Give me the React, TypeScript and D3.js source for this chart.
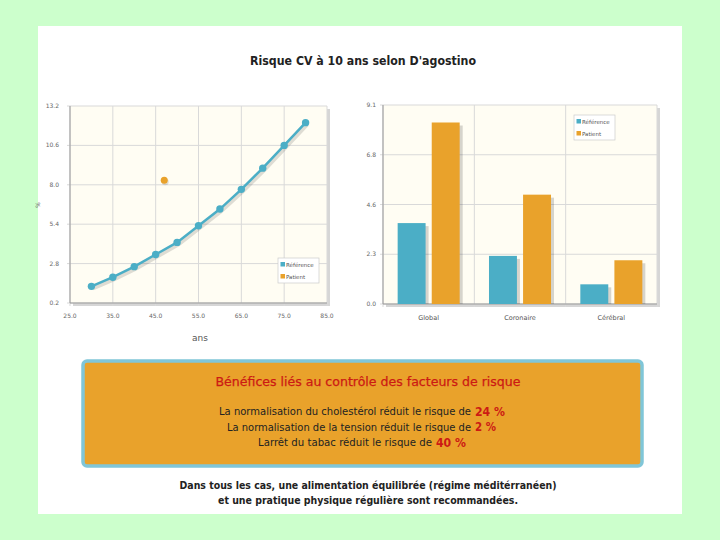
import { useEffect, useRef } from 'react';
import * as d3 from 'd3';

// courbe de référence (risque selon l'âge)
const ages = [30, 35, 40, 45, 50, 55, 60, 65, 70, 75, 80];
const risqueReference = [1.3, 1.9, 2.6, 3.4, 4.2, 5.3, 6.4, 7.7, 9.1, 10.6, 12.1];
const patientAge = 47;
const patientRisque = 8.3;

const xTicksAge = [25, 35, 45, 55, 65, 75, 85];
const yTicksAge = [0.2, 2.8, 5.4, 8.0, 10.6, 13.2];

// barres
const categories = ['Global', 'Coronaire', 'Cérébral'];
const series = ['Référence', 'Patient'];
const barReference = [3.7, 2.2, 0.9];
const barPatient = [8.3, 5.0, 2.0];
const yTicksBar = [0, 2.275, 4.55, 6.825, 9.1];
const yTickLabelsBar = ['0.0', '2.3', '4.6', '6.8', '9.1'];

const benefices = [
  { text: 'La normalisation du cholestérol réduit le risque de', value: '24 %' },
  { text: 'La normalisation de la tension réduit le risque de', value: '2 %' },
  { text: 'Larrêt du tabac réduit le risque de', value: '40 %' },
];

const TEAL = '#4baec6';
const ORANGE = '#e9a22b';
const FONT = '"DejaVu Sans", Verdana, sans-serif';

export default function App() {
  const ref = useRef<SVGSVGElement | null>(null);

  useEffect(() => {
    document.body.style.margin = '0';
    const svg = d3.select(ref.current);
    svg.selectAll('*').remove();

    svg.append('rect').attr('width', 720).attr('height', 540).attr('fill', '#ccffcc');
    svg.append('rect').attr('x', 38).attr('y', 26).attr('width', 644).attr('height', 488).attr('fill', '#ffffff');

    svg.append('text')
      .attr('x', 363).attr('y', 65)
      .attr('text-anchor', 'middle')
      .attr('font-family', FONT).attr('font-size', 12.5).attr('font-weight', 'bold')
      .attr('fill', '#222')
      .attr('textLength', 226).attr('lengthAdjust', 'spacingAndGlyphs')
      .text("Risque CV à 10 ans selon D'agostino");

    // ---------- graphique de gauche ----------
    const x = d3.scaleLinear().domain([25, 85]).range([70, 327]);
    const y = d3.scaleLinear().domain([0.2, 13.2]).range([303, 106]);

    const left = svg.append('g');
    left.append('rect').attr('x', 73).attr('y', 109).attr('width', 257).attr('height', 197).attr('fill', '#d6d6d6');
    left.append('rect').attr('x', 70).attr('y', 106).attr('width', 257).attr('height', 197).attr('fill', '#fffdf3');

    left.selectAll('line.vg').data(xTicksAge).enter().append('line')
      .attr('x1', d => x(d)).attr('x2', d => x(d)).attr('y1', 106).attr('y2', 306)
      .attr('stroke', '#d9d9d9').attr('stroke-width', 1);
    left.selectAll('line.hg').data(yTicksAge).enter().append('line')
      .attr('x1', 67).attr('x2', 327).attr('y1', d => y(d)).attr('y2', d => y(d))
      .attr('stroke', '#d9d9d9').attr('stroke-width', 1);
    left.append('line').attr('x1', 70).attr('x2', 327).attr('y1', 303).attr('y2', 303).attr('stroke', '#999');
    left.append('line').attr('x1', 70).attr('x2', 70).attr('y1', 106).attr('y2', 303).attr('stroke', '#999');

    left.selectAll('text.xt').data(xTicksAge).enter().append('text')
      .attr('x', d => x(d)).attr('y', 318).attr('text-anchor', 'middle')
      .attr('font-family', FONT).attr('font-size', 6).attr('fill', '#666')
      .text(d => d.toFixed(1));
    left.selectAll('text.yt').data(yTicksAge).enter().append('text')
      .attr('x', 59).attr('y', d => y(d) + 2).attr('text-anchor', 'end')
      .attr('font-family', FONT).attr('font-size', 6).attr('fill', '#666')
      .text(d => d.toFixed(1));

    left.append('text').attr('x', 200).attr('y', 341).attr('text-anchor', 'middle')
      .attr('font-family', FONT).attr('font-size', 9).attr('fill', '#555').text('ans');
    left.append('text').attr('transform', 'translate(40,205) rotate(-90)').attr('text-anchor', 'middle')
      .attr('font-family', FONT).attr('font-size', 6).attr('fill', '#666').text('%');

    const pts = ages.map((a, i) => [a, risqueReference[i]] as [number, number]);
    const line = d3.line<[number, number]>().x(d => x(d[0])).y(d => y(d[1]));
    left.append('path').attr('d', line(pts)).attr('fill', 'none')
      .attr('stroke', 'rgba(0,0,0,0.13)').attr('stroke-width', 4).attr('transform', 'translate(1.5,2)');
    left.append('path').attr('d', line(pts)).attr('fill', 'none').attr('stroke', TEAL).attr('stroke-width', 2.5);
    left.selectAll('circle.ref').data(pts).enter().append('circle')
      .attr('cx', d => x(d[0])).attr('cy', d => y(d[1])).attr('r', 3.7).attr('fill', TEAL);
    left.append('circle').attr('cx', x(patientAge) + 1).attr('cy', y(patientRisque) + 1.5).attr('r', 3.5).attr('fill', 'rgba(0,0,0,0.12)');
    left.append('circle').attr('cx', x(patientAge)).attr('cy', y(patientRisque)).attr('r', 3.5).attr('fill', ORANGE);

    const legend = (g: d3.Selection<SVGGElement, unknown, null, undefined>, lx: number, ly: number) => {
      g.append('rect').attr('x', lx).attr('y', ly).attr('width', 41).attr('height', 25)
        .attr('fill', '#ffffff').attr('stroke', '#cccccc').attr('stroke-width', 0.7);
      series.forEach((s, i) => {
        g.append('rect').attr('x', lx + 2.5).attr('y', ly + 4 + i * 12).attr('width', 4.5).attr('height', 4.5)
          .attr('fill', i === 0 ? TEAL : ORANGE);
        g.append('text').attr('x', lx + 8).attr('y', ly + 8.5 + i * 12)
          .attr('font-family', FONT).attr('font-size', 5.5).attr('fill', '#555').text(s);
      });
    };
    legend(left, 278, 258);

    // ---------- graphique de droite ----------
    const xb = d3.scaleBand().domain(categories).range([383, 657]);
    const xs = d3.scaleBand().domain(series).range([0, xb.bandwidth()]).paddingInner(0.18).paddingOuter(0.43);
    const yb = d3.scaleLinear().domain([0, 9.1]).range([304, 105]);

    const right = svg.append('g');
    right.append('rect').attr('x', 386).attr('y', 108).attr('width', 274).attr('height', 199).attr('fill', '#d6d6d6');
    right.append('rect').attr('x', 383).attr('y', 105).attr('width', 274).attr('height', 199).attr('fill', '#fffdf3');
    right.selectAll('line.hg').data(yTicksBar).enter().append('line')
      .attr('x1', 380).attr('x2', 657).attr('y1', d => yb(d)).attr('y2', d => yb(d))
      .attr('stroke', '#d9d9d9');
    const bounds = categories.map(c => xb(c) as number).concat([657]);
    right.selectAll('line.vg').data(bounds).enter().append('line')
      .attr('x1', d => d).attr('x2', d => d).attr('y1', 105).attr('y2', 307)
      .attr('stroke', '#d9d9d9');
    right.append('line').attr('x1', 383).attr('x2', 657).attr('y1', 304).attr('y2', 304).attr('stroke', '#999');
    right.append('line').attr('x1', 383).attr('x2', 383).attr('y1', 105).attr('y2', 304).attr('stroke', '#999');

    right.selectAll('text.yt').data(yTicksBar).enter().append('text')
      .attr('x', 376).attr('y', d => yb(d) + 2).attr('text-anchor', 'end')
      .attr('font-family', FONT).attr('font-size', 6).attr('fill', '#666')
      .text((_, i) => yTickLabelsBar[i]);
    right.selectAll('text.xt').data(categories).enter().append('text')
      .attr('x', d => (xb(d) as number) + xb.bandwidth() / 2).attr('y', 320).attr('text-anchor', 'middle')
      .attr('font-family', FONT).attr('font-size', 6.5).attr('fill', '#555')
      .text(d => d);

    const values = [barReference, barPatient];
    series.forEach((s, si) => {
      categories.forEach((c, ci) => {
        const bx = (xb(c) as number) + (xs(s) as number);
        const v = values[si][ci];
        right.append('rect').attr('x', bx + 3).attr('y', yb(v) + 3).attr('width', xs.bandwidth())
          .attr('height', 304 - yb(v) - 3).attr('fill', 'rgba(0,0,0,0.16)');
        right.append('rect').attr('x', bx).attr('y', yb(v)).attr('width', xs.bandwidth())
          .attr('height', 304 - yb(v)).attr('fill', si === 0 ? TEAL : ORANGE);
      });
    });
    legend(right, 574, 115);

    // ---------- encadré ----------
    svg.append('rect').attr('x', 83).attr('y', 361).attr('width', 559).attr('height', 105).attr('rx', 4)
      .attr('fill', ORANGE).attr('stroke', '#80c6d8').attr('stroke-width', 3.5);
    svg.append('text').attr('x', 368).attr('y', 386).attr('text-anchor', 'middle')
      .attr('font-family', FONT).attr('font-size', 12).attr('fill', '#cc1a14')
      .attr('stroke', '#cc1a14').attr('stroke-width', 0.25)
      .attr('textLength', 305).attr('lengthAdjust', 'spacingAndGlyphs')
      .text('Bénéfices liés au contrôle des facteurs de risque');

    const starts = [219, 227, 258];
    const ends = [471, 471, 432];
    const valueWidths = [30, 21, 30];
    benefices.forEach((b, i) => {
      const ly = 415 + i * 15.5;
      svg.append('text').attr('x', starts[i]).attr('y', ly)
        .attr('font-family', FONT).attr('font-size', 10).attr('fill', '#222')
        .attr('textLength', ends[i] - starts[i]).attr('lengthAdjust', 'spacingAndGlyphs')
        .text(b.text);
      svg.append('text').attr('x', ends[i] + 4).attr('y', ly + 0.5)
        .attr('font-family', FONT).attr('font-size', 13).attr('font-weight', 'bold').attr('fill', '#cc1a14')
        .attr('textLength', valueWidths[i]).attr('lengthAdjust', 'spacingAndGlyphs')
        .text(b.value);
    });

    svg.append('text').attr('x', 368).attr('y', 489).attr('text-anchor', 'middle')
      .attr('font-family', FONT).attr('font-size', 10).attr('font-weight', 'bold').attr('fill', '#222')
      .attr('textLength', 377).attr('lengthAdjust', 'spacingAndGlyphs')
      .text('Dans tous les cas, une alimentation équilibrée (régime méditérranéen)');
    svg.append('text').attr('x', 368).attr('y', 504).attr('text-anchor', 'middle')
      .attr('font-family', FONT).attr('font-size', 10).attr('font-weight', 'bold').attr('fill', '#222')
      .attr('textLength', 300).attr('lengthAdjust', 'spacingAndGlyphs')
      .text('et une pratique physique régulière sont recommandées.');
  }, []);

  return <svg ref={ref} width={720} height={540} style={{ display: 'block' }} />;
}
